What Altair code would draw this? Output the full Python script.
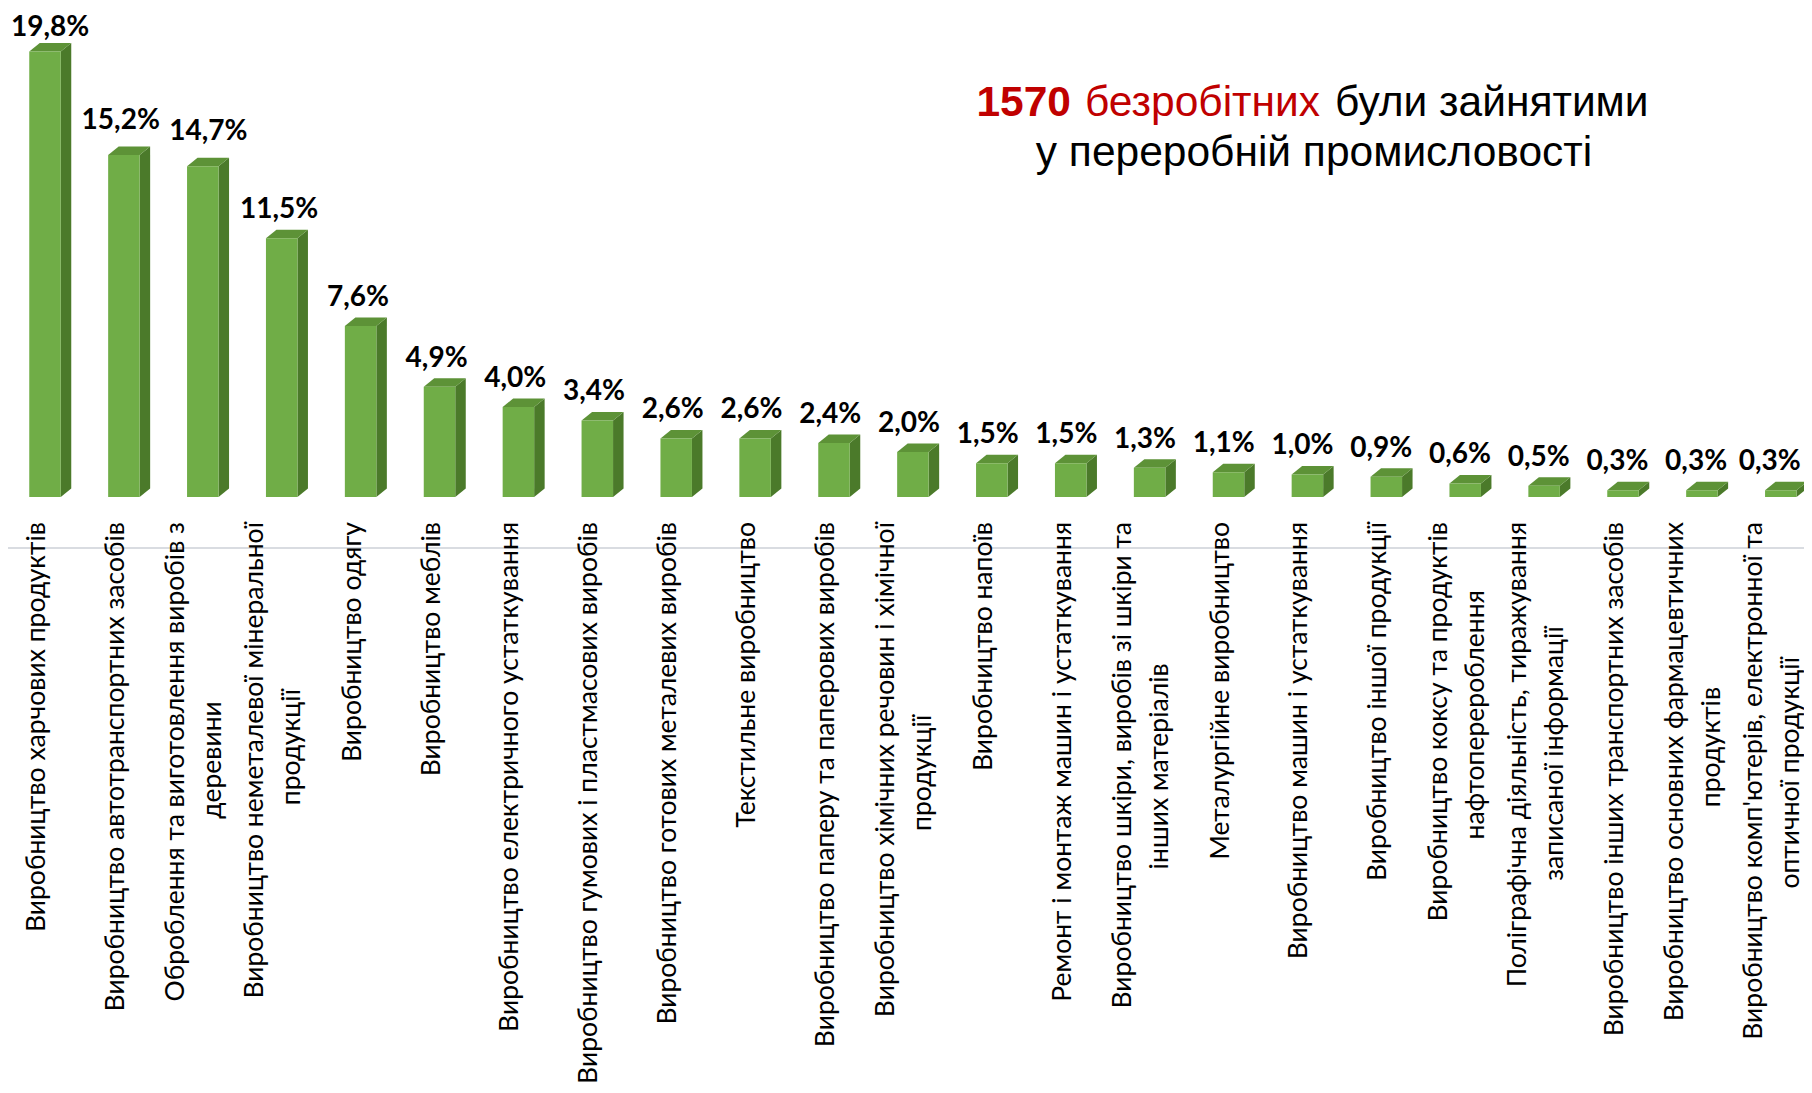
import altair as alt
import pandas as pd

# ---------------- data ----------------
categories = [
    "Виробництво харчових продуктів",
    "Виробництво автотранспортних засобів",
    "Оброблення  та виготовлення виробів з\nдеревини",
    "Виробництво неметалевої мінеральної\nпродукції",
    "Виробництво одягу",
    "Виробництво меблів",
    "Виробництво електричного устаткування",
    "Виробництво гумових і пластмасових виробів",
    "Виробництво готових металевих виробів",
    "Текстильне виробництво",
    "Виробництво паперу та паперових виробів",
    "Виробництво хімічних речовин і хімічної\nпродукції",
    "Виробництво напоїв",
    "Ремонт і монтаж машин і устаткування",
    "Виробництво шкіри, виробів зі шкіри та\nінших матеріалів",
    "Металургійне виробництво",
    "Виробництво машин і устаткування",
    "Виробництво іншої продукції",
    "Виробництво коксу та продуктів\nнафтоперероблення",
    "Поліграфічна діяльність, тиражування\nзаписаної інформації",
    "Виробництво інших транспортних засобів",
    "Виробництво основних фармацевтичних\nпродуктів",
    "Виробництво комп'ютерів, електронної та\nоптичної продукції",
]
values = [19.8, 15.2, 14.7, 11.5, 7.6, 4.9, 4.0, 3.4, 2.6, 2.6, 2.4, 2.0,
          1.5, 1.5, 1.3, 1.1, 1.0, 0.9, 0.6, 0.5, 0.3, 0.3, 0.3]
title_number = "1570"
title_red = "безробітних"
title_rest = "були зайнятими"
title_line2 = "у переробній промисловості"

# ---------------- layout / style ----------------
W, H = 1796, 1077
X_MIN, X_MAX = -0.469, 22.294
Y_MIN, Y_MAX = -26.133, 21.733
PX_X = W / (X_MAX - X_MIN)
PX_Y = H / (Y_MAX - Y_MIN)
Y0 = Y_MAX * PX_Y            # pixel row of value 0
HW = 15.75 / PX_X            # half width of front face
DX = 10.5 / PX_X             # 3D depth, horizontal
DY = 8.5 / PX_Y              # 3D depth, vertical
LABEL_TOP = 514
LINE_H = 37
CAT_FS = 26.5
CHAR_W = 12.86
LABEL_SHIFT = -8
VAL_FS = 28
VAL_GAP = 20                 # px between front top and label baseline
VAL_NUDGE = {0: (0, -5), 1: (-1, 6), 2: (8, 6)}   # manual label moves (px right, px up)

FRONT = "#70AD47"
SIDE = "#4B7A2A"
TOP = "#5D9237"

xs = alt.Scale(domain=[X_MIN, X_MAX], nice=False, zero=False)
ys = alt.Scale(domain=[Y_MIN, Y_MAX], nice=False, zero=False)

n = len(values)
bars = pd.DataFrame({"i": list(range(n)), "v": values})
bars["x1"] = bars["i"] - HW
bars["x2"] = bars["i"] + HW
bars["lab"] = [f"{v:.1f}".replace(".", ",") + "%" for v in values]

# value-label anchors: slight leftward drift, kept inside the chart
lx, ly = [], []
for i, (v, t) in enumerate(zip(values, bars["lab"])):
    cx = X_MIN * -PX_X + i * PX_X - 2 - 4 * i / (n - 1)
    half = len(t) * 0.56 * VAL_FS / 2
    cx = min(max(cx, half + 3), W - half - 3)
    nx, ny = VAL_NUDGE.get(i, (0, 0))
    cx += nx
    base_px = Y0 - v * PX_Y - VAL_GAP - ny
    lx.append(cx / PX_X + X_MIN)
    ly.append((Y0 - base_px) / PX_Y)
bars["lx"] = lx
bars["ly"] = ly

side_rows, top_rows = [], []
for i, v in enumerate(values):
    side_rows += [dict(i=i, px=i + HW, lo=0.0, hi=v),
                  dict(i=i, px=i + HW + DX, lo=DY, hi=v + DY)]
    top_rows += [dict(i=i, px=i - HW, lo=v, hi=v),
                 dict(i=i, px=i - HW + DX, lo=v, hi=v + DY),
                 dict(i=i, px=i + HW, lo=v, hi=v + DY),
                 dict(i=i, px=i + HW + DX, lo=v + DY, hi=v + DY)]
side = pd.DataFrame(side_rows)
top = pd.DataFrame(top_rows)

l1_rows, l2_rows = [], []
for i, c in enumerate(categories):
    parts = c.split("\n")
    if len(parts) == 1:
        l1_rows.append(dict(t=parts[0], px=i + LABEL_SHIFT / PX_X))
    else:
        l1_rows.append(dict(t=parts[0], px=i + (LABEL_SHIFT - LINE_H / 2) / PX_X))
        mid_px = LABEL_TOP + len(parts[0]) * CHAR_W / 2
        l2_rows.append(dict(t=parts[1], px=i + (LABEL_SHIFT + LINE_H / 2) / PX_X,
                            py=(Y0 - mid_px) / PX_Y))
lab1 = pd.DataFrame(l1_rows)
lab2 = pd.DataFrame(l2_rows)

# ---------------- marks ----------------
baseline = alt.Chart(pd.DataFrame({"a": [0]})).mark_rule(
    color="#D9DCE1", strokeWidth=2
).encode(x=alt.value(0), x2=alt.value(W), y=alt.value(540))

side_c = alt.Chart(side).mark_area(color=SIDE, opacity=1).encode(
    x=alt.X("px:Q", scale=xs, axis=None),
    y=alt.Y("lo:Q", scale=ys, axis=None, stack=None),
    y2="hi:Q",
    detail="i:N",
)
top_c = alt.Chart(top).mark_area(color=TOP, opacity=1).encode(
    x=alt.X("px:Q", scale=xs, axis=None),
    y=alt.Y("lo:Q", scale=ys, axis=None, stack=None),
    y2="hi:Q",
    detail="i:N",
)
front_c = alt.Chart(bars).mark_rect(color=FRONT).encode(
    x=alt.X("x1:Q", scale=xs, axis=None),
    x2="x2:Q",
    y=alt.Y("v:Q", scale=ys, axis=None),
    y2=alt.datum(0),
)
vlab = alt.Chart(bars).mark_text(
    font="Lato", fontWeight="bold", fontSize=VAL_FS, color="#000000",
    align="center", baseline="alphabetic",
).encode(
    x=alt.X("lx:Q", scale=xs, axis=None),
    y=alt.Y("ly:Q", scale=ys, axis=None),
    text="lab:N",
)
cat1 = alt.Chart(lab1).mark_text(
    font="Lato", fontSize=CAT_FS, color="#000000", angle=270,
    align="right", baseline="middle",
).encode(
    x=alt.X("px:Q", scale=xs, axis=None),
    y=alt.value(LABEL_TOP),
    text="t:N",
)
cat2 = alt.Chart(lab2).mark_text(
    font="Lato", fontSize=CAT_FS, color="#000000", angle=270,
    align="center", baseline="middle",
).encode(
    x=alt.X("px:Q", scale=xs, axis=None),
    y=alt.Y("py:Q", scale=ys, axis=None),
    text="t:N",
)

one = pd.DataFrame({"a": [0]})
TF = "Liberation Sans"
TS = 42.5
t1 = alt.Chart(one).mark_text(
    text=title_number, font=TF, fontSize=TS, fontWeight="bold", color="#C00000",
    align="right", baseline="alphabetic",
).encode(x=alt.value(1063), y=alt.value(108))
t2 = alt.Chart(one).mark_text(
    text=title_red, font=TF, fontSize=TS, color="#C00000",
    align="left", baseline="alphabetic",
).encode(x=alt.value(1077), y=alt.value(108))
t3 = alt.Chart(one).mark_text(
    text=title_rest, font=TF, fontSize=TS, color="#000000",
    align="left", baseline="alphabetic",
).encode(x=alt.value(1327), y=alt.value(108))
t4 = alt.Chart(one).mark_text(
    text=title_line2, font=TF, fontSize=TS, color="#000000",
    align="center", baseline="alphabetic",
).encode(x=alt.value(1306), y=alt.value(158))

chart = alt.layer(
    baseline, side_c, top_c, front_c, vlab, cat1, cat2, t1, t2, t3, t4
).properties(
    width=W, height=H, autosize="none", padding=0, background="#FFFFFF",
).configure_view(stroke=None)

chart.save("out.html", embed_options={"renderer": "svg", "actions": False})
